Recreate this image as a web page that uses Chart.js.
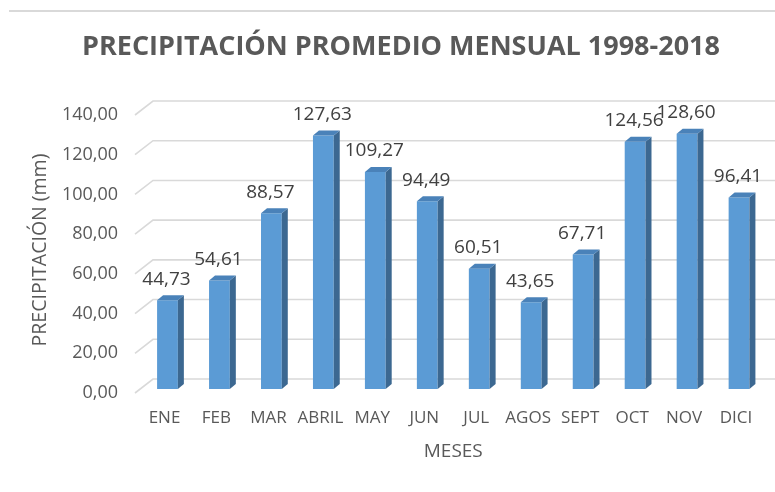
<!DOCTYPE html>
<html>
<head>
<meta charset="utf-8">
<script src="https://cdn.jsdelivr.net/npm/chart.js@4"></script>
<style>
    html, body { margin: 0; padding: 0; background: #ffffff; }
    #wrap { position: relative; width: 775px; height: 492px; }
</style>
</head>
<body>
<div id="wrap"><canvas id="rainChart" width="775" height="492"></canvas></div>
<script>
// Chart data
const chartTitle = 'PRECIPITACIÓN PROMEDIO MENSUAL 1998-2018';
const months = ['ENE', 'FEB', 'MAR', 'ABRIL', 'MAY', 'JUN', 'JUL', 'AGOS', 'SEPT', 'OCT', 'NOV', 'DICI'];
const rainfall = [44.73, 54.61, 88.57, 127.63, 109.27, 94.49, 60.51, 43.65, 67.71, 124.56, 128.60, 96.41];
const yTicks = [0, 20, 40, 60, 80, 100, 120, 140];

const FONT = "'Open Sans', 'Liberation Sans', sans-serif";
const TEXT_GRAY = '#595959';

function formatValue(v) {
    return v.toFixed(2).replace('.', ',');
}

// 3D look: slanted grid on the back wall + side/top faces of each bar
const depthPlugin = {
    id: 'depth3d',
    beforeDatasetsDraw(chart) {
        const ctx = chart.ctx;
        const yScale = chart.scales.y;
        const left = chart.chartArea.left;
        ctx.save();
        ctx.strokeStyle = '#d9d9d9';
        ctx.lineWidth = 1.6;
        yTicks.forEach(t => {
            const py = yScale.getPixelForValue(t);
            ctx.beginPath();
            ctx.moveTo(left - 6.5, py + 4);
            ctx.lineTo(left + 11.5, py - 10);
            ctx.lineTo(chart.width, py - 10);
            ctx.stroke();
        });
        ctx.restore();
    },
    afterDatasetsDraw(chart) {
        const ctx = chart.ctx;
        const meta = chart.getDatasetMeta(0);
        const dx = 6, dy = 5;
        ctx.save();
        meta.data.forEach((bar, i) => {
            const half = bar.width / 2;
            const x0 = bar.x - half, x1 = bar.x + half;
            const top = bar.y, base = bar.base;
            // side face
            ctx.fillStyle = '#3c6891';
            ctx.beginPath();
            ctx.moveTo(x1, top);
            ctx.lineTo(x1 + dx, top - dy);
            ctx.lineTo(x1 + dx, base - dy);
            ctx.lineTo(x1, base);
            ctx.closePath();
            ctx.fill();
            // top face
            ctx.fillStyle = '#4a82b9';
            ctx.beginPath();
            ctx.moveTo(x0, top);
            ctx.lineTo(x0 + dx, top - dy);
            ctx.lineTo(x1 + dx, top - dy);
            ctx.lineTo(x1, top);
            ctx.closePath();
            ctx.fill();
            // value label
            ctx.fillStyle = '#404040';
            ctx.font = '19px ' + FONT;
            ctx.textAlign = 'center';
            ctx.textBaseline = 'middle';
            ctx.fillText(formatValue(rainfall[i]), bar.x - 1, top - 21);
        });
        ctx.restore();
    },
    afterDraw(chart) {
        const ctx = chart.ctx;
        ctx.save();
        // thin frame line at the top of the picture
        ctx.strokeStyle = '#d9d9d9';
        ctx.lineWidth = 2;
        ctx.beginPath();
        ctx.moveTo(9, 11);
        ctx.lineTo(chart.width, 11);
        ctx.stroke();
        // chart title
        ctx.fillStyle = TEXT_GRAY;
        ctx.font = 'bold 27px ' + FONT;
        ctx.textAlign = 'center';
        ctx.textBaseline = 'middle';
        ctx.fillText(chartTitle, 401, 47);
        ctx.restore();
    }
};

const ctx = document.getElementById('rainChart').getContext('2d');
new Chart(ctx, {
    type: 'bar',
    data: {
        labels: months,
        datasets: [{
            label: 'Precipitación',
            data: rainfall,
            backgroundColor: '#5b9bd5',
            borderWidth: 0,
            barPercentage: 0.4,
            categoryPercentage: 1.0
        }]
    },
    options: {
        responsive: false,
        animation: false,
        layout: {
            padding: { left: 0, right: 10, top: 111, bottom: 0 }
        },
        plugins: {
            legend: { display: false },
            tooltip: { enabled: false },
            title: { display: false }
        },
        scales: {
            x: {
                grid: { display: false, drawTicks: false },
                border: { display: false },
                ticks: {
                    color: TEXT_GRAY,
                    padding: 19,
                    labelOffset: -3,
                    font: { family: FONT, size: 17 }
                },
                title: {
                    display: true,
                    text: 'MESES',
                    color: TEXT_GRAY,
                    font: { family: FONT, size: 19, lineHeight: 1.2 },
                    padding: { top: 4, bottom: 29 }
                },
                afterFit(scale) {
                    scale.height = 103;
                }
            },
            y: {
                min: 0,
                max: 140,
                grid: { display: false, drawTicks: false },
                border: { display: false },
                afterBuildTicks(scale) {
                    scale.ticks = yTicks.map(v => ({ value: v }));
                },
                ticks: {
                    color: TEXT_GRAY,
                    padding: 23.5,
                    labelOffset: 4,
                    font: { family: FONT, size: 18 },
                    callback: v => formatValue(v)
                },
                title: {
                    display: true,
                    text: 'PRECIPITACIÓN (mm)',
                    color: TEXT_GRAY,
                    font: { family: FONT, size: 19.5, lineHeight: 1.2 },
                    padding: { top: 29, bottom: 0 }
                },
                afterFit(scale) {
                    scale.width = 141.5;
                }
            }
        }
    },
    plugins: [depthPlugin]
});
</script>
</body>
</html>
